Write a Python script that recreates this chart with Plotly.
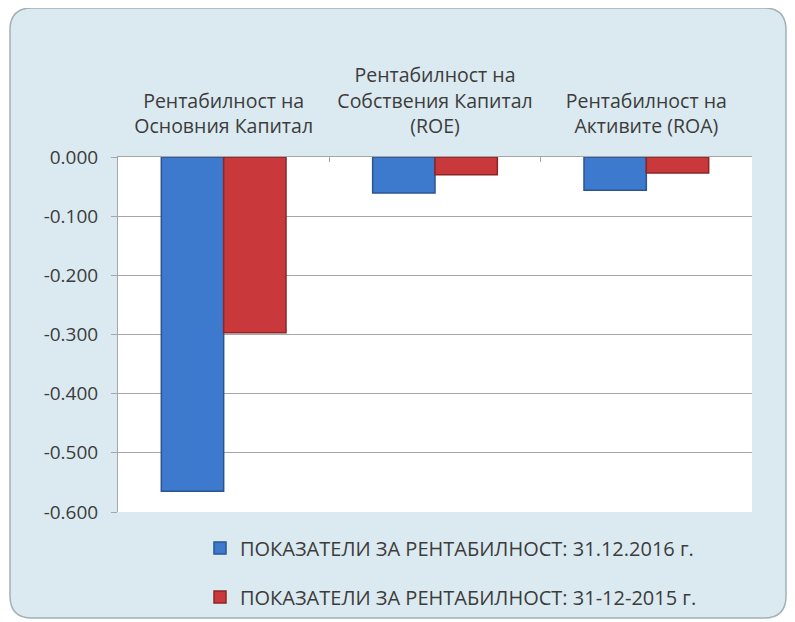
import plotly.graph_objects as go

categories = [
    "Рентабилност на<br>Основния Капитал",
    "Рентабилност на<br>Собствения Капитал<br>(ROE)",
    "Рентабилност на<br>Активите (ROA)",
]
series_names = [
    "ПОКАЗАТЕЛИ ЗА РЕНТАБИЛНОСТ: 31.12.2016 г.",
    "ПОКАЗАТЕЛИ ЗА РЕНТАБИЛНОСТ: 31-12-2015 г.",
]
values_2016 = [-0.565, -0.061, -0.056]
values_2015 = [-0.297, -0.030, -0.027]
y_ticks = [0, -0.1, -0.2, -0.3, -0.4, -0.5, -0.6]
y_tick_labels = ["0.000", "-0.100", "-0.200", "-0.300", "-0.400", "-0.500", "-0.600"]

# page body has an 8px margin, so work in coordinates shifted by 8
OFF = 8
W, H = 795 - OFF, 622 - OFF
L, R, T, B = 118 - OFF, 752 - OFF, 157 - OFF, 512 - OFF

def px(x):
    return (x - OFF - L) / (R - L)

def py(y):
    return (B - (y - OFF)) / (B - T)

font_fam = "Open Sans, Noto Sans, sans-serif"
text_col = "#3c3c3c"

fig = go.Figure()
fig.add_trace(go.Bar(
    x=categories, y=values_2016, name=series_names[0], legend="legend",
    marker=dict(color="#3d79cc", line=dict(color="#2a5590", width=1.5)),
))
fig.add_trace(go.Bar(
    x=categories, y=values_2015, name=series_names[1], legend="legend2",
    marker=dict(color="#c9383a", line=dict(color="#8c2626", width=1.5)),
))

# rounded card background (reference pixel coordinates)
x0, x1, y0, y1, r = 10, 786, 8, 618, 22
def P(x, y):
    return f"{px(x):.5f},{py(y):.5f}"
card = (
    f"M {P(x0 + r, y0)} L {P(x1 - r, y0)} Q {P(x1, y0)} {P(x1, y0 + r)} "
    f"L {P(x1, y1 - r)} Q {P(x1, y1)} {P(x1 - r, y1)} "
    f"L {P(x0 + r, y1)} Q {P(x0, y1)} {P(x0, y1 - r)} "
    f"L {P(x0, y0 + r)} Q {P(x0, y0)} {P(x0 + r, y0)} Z"
)
shapes = [
    dict(type="path", xref="paper", yref="paper", path=card, layer="below",
         fillcolor="#dbeaf0", line=dict(color="#a3b1b6", width=1.5)),
    dict(type="rect", xref="paper", yref="paper", x0=0, x1=1, y0=0, y1=1,
         layer="below", fillcolor="white", line=dict(width=0)),
]

legend_common = dict(
    xanchor="left", yanchor="middle", bgcolor="rgba(0,0,0,0)",
    font=dict(size=20, color=text_col), itemwidth=30,
)

fig.update_layout(
    width=W, height=H,
    margin=dict(l=L, r=W - R, t=T, b=H - B, pad=0, autoexpand=False),
    paper_bgcolor="white", plot_bgcolor="white",
    barmode="group", bargap=0.41, bargroupgap=0,
    font=dict(family=font_fam, size=18, color=text_col),
    shapes=shapes,
    showlegend=True,
    legend=dict(x=px(200), y=py(548), **legend_common),
    legend2=dict(x=px(200), y=py(597), **legend_common),
    xaxis=dict(
        side="top", type="category",
        showline=True, linecolor="#a6a6a6", linewidth=1,
        ticks="inside", tickson="boundaries", ticklen=5, tickcolor="#a6a6a6",
        tickfont=dict(size=19.5, color=text_col), showgrid=False,
        ticklabelstandoff=15,
    ),
    yaxis=dict(
        range=[-0.6, 0], tickvals=y_ticks, ticktext=y_tick_labels,
        showline=True, linecolor="#a6a6a6", linewidth=1,
        ticks="outside", ticklen=6, tickcolor="#a6a6a6",
        showgrid=True, gridcolor="#a6a6a6", gridwidth=1, zeroline=False,
        tickfont=dict(size=19, color=text_col), ticklabelstandoff=9,
    ),
)

fig.write_html("out.html")
